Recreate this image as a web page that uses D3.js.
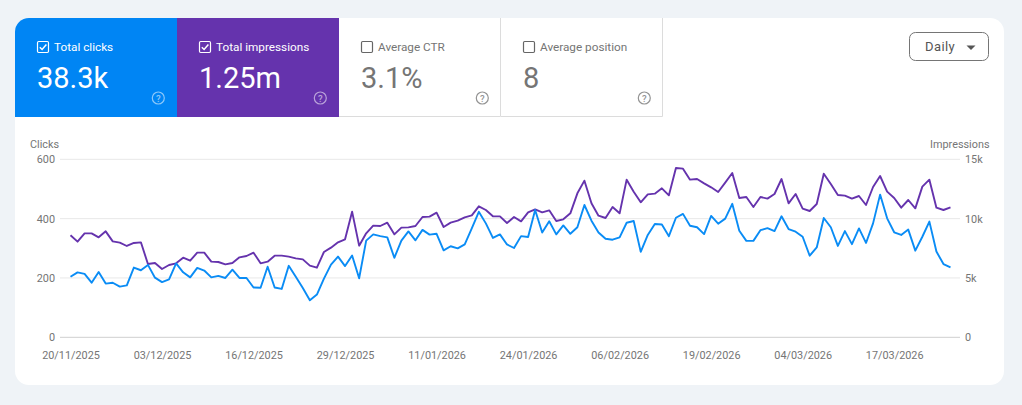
<!DOCTYPE html>
<html><head><meta charset="utf-8">
<script src="https://cdn.jsdelivr.net/npm/d3@7"></script>
<style>
html,body{margin:0;padding:0;background:#eff3f7;overflow:hidden}
svg{display:block;font-family:Roboto,sans-serif}
</style></head><body>
<svg id="c" width="1022" height="405"></svg>
<script>
const startDate = "2025-11-20";
const tickLabels = ["20/11/2025","03/12/2025","16/12/2025","29/12/2025","11/01/2026","24/01/2026","06/02/2026","19/02/2026","04/03/2026","17/03/2026"];
const clicksTicks = [0,200,400,600];
const imprTicks = [0,5000,10000,15000];
const imprTickLabels = ["0","5k","10k","15k"];
const clicks = [204,219,214,184,220,181,184,171,175,235,226,244,201,186,195,249,219,202,234,225,202,207,200,228,200,200,168,167,238,168,163,241,204,166,125,144,198,245,272,240,276,199,
326,347,341,337,268,326,357,327,362,346,349,293,307,300,313,367,423,384,335,347,313,301,341,338,429,353,391,347,377,349,371,446,393,353,332,329,337,386,392,288,345,
382,380,341,403,416,376,371,348,409,383,400,450,359,325,325,361,368,358,408,365,356,339,275,303,402,371,308,358,314,367,318,384,481,401,354,345,363,292,339,390,289,247,236];
const impressions = [8593,8059,8761,8761,8424,8930,8087,7975,7694,7947,8003,6177,6261,5756,6093,6233,6711,6458,7132,7132,6374,6346,6149,6261,6739,6851,7132,6233,6374,6879,6879,6795,6655,6570,6037,5868,7188,7553,8003,8256,10587,7722,
8761,9407,9379,9660,8677,9239,9267,9379,10138,10166,10503,9295,9660,9829,10110,10278,11037,10728,10194,10194,9632,10138,9773,10531,10784,10531,10699,9801,9941,10447,12132,13200,11289,10250,10053,10980,10447,13284,12273,11374,12048,
12104,12553,11964,14267,14211,13284,13340,12975,12638,12245,13031,13846,11739,11823,10980,11823,11683,12076,13340,11289,12076,10840,10643,11233,13789,12919,11992,11936,11683,11907,11149,12666,13593,12273,11739,10924,11570,10868,12694,13284,10924,10728,10952];
const tabNames = ["Total clicks","Total impressions","Average CTR","Average position"];
const tabValues = ["38.3k","1.25m","3.1%","8"];
const tabActive = [true,true,false,false];
const tabFills = ["#0085f4","#6533ad","#ffffff","#ffffff"];

const svg = d3.select("#c");
const clip = svg.append("defs").append("clipPath").attr("id","card");
clip.append("rect").attr("x",15).attr("y",18).attr("width",989).attr("height",367).attr("rx",14);
svg.append("rect").attr("x",15).attr("y",18).attr("width",989).attr("height",367).attr("rx",14).attr("fill","#fff");
const card = svg.append("g").attr("clip-path","url(#card)");

// tabs
const tabX = d3.scaleLinear().domain([0,4]).range([15,663]);
tabNames.forEach((name,i)=>{
  const x0 = tabX(i), on = tabActive[i], fg = on ? "#fff" : "#757575";
  const g = card.append("g");
  g.append("rect").attr("x",x0).attr("y",18).attr("width",162).attr("height",99).attr("fill",tabFills[i]);
  if(!on){
    g.append("path").attr("d",`M${x0+161.5} 18V116.5H${x0}`).attr("fill","none").attr("stroke","#dcdcdc").attr("stroke-width",1);
  }
  g.append("rect").attr("x",x0+22.5).attr("y",41.5).attr("width",11).attr("height",11).attr("rx",1.2)
    .attr("fill","none").attr("stroke",on?"#fff":"#666").attr("stroke-width",1.2);
  if(on) g.append("path").attr("d",`M${x0+24.8} 47.2l2.3 2.3 4.3-4.9`).attr("fill","none").attr("stroke","#fff").attr("stroke-width",1.5);
  g.append("text").attr("x",x0+39).attr("y",51).attr("font-size",11.75).attr("fill",fg).text(name);
  g.append("text").attr("x",x0+22).attr("y",87.5).attr("font-size",29).attr("fill",fg).text(tabValues[i]);
  const q = g.append("g").attr("opacity",on?0.55:0.9);
  q.append("circle").attr("cx",x0+143.3).attr("cy",98).attr("r",6).attr("fill","none").attr("stroke",on?"#fff":"#888").attr("stroke-width",1.2);
  q.append("text").attr("x",x0+143.3).attr("y",101.5).attr("text-anchor","middle").attr("font-size",9.5).attr("font-weight",500).attr("fill",on?"#fff":"#888").text("?");
});

// dropdown
svg.append("rect").attr("x",909.5).attr("y",32.5).attr("width",79).attr("height",28).attr("rx",6).attr("fill","#fff").attr("stroke","#757575");
svg.append("text").attr("x",925).attr("y",51).attr("font-size",13).attr("letter-spacing",0.4).attr("fill","#555").text("Daily");
svg.append("path").attr("d","M966.5 45.5h9l-4.5 4.5z").attr("fill","#555");

// scales
const parse = d3.timeParse("%d/%m/%Y");
const start = d3.timeParse("%Y-%m-%d")(startDate);
const dates = clicks.map((_,i)=>d3.timeDay.offset(start,i));
const x = d3.scaleTime().domain([start,dates[dates.length-1]]).range([70.5,950.5]);
const yL = d3.scaleLinear().domain([0,600]).range([337.3,159.3]);
const yR = d3.scaleLinear().domain([0,15000]).range([337.3,159.3]);

// grid
svg.append("g").selectAll("line").data(clicksTicks).join("line")
  .attr("x1",60).attr("x2",960).attr("y1",d=>yL(d)).attr("y2",d=>yL(d))
  .attr("stroke",d=>d===0?"#cfcfcf":"#e8e8e8").attr("stroke-width",1);

// axes
const axisFont = g=>{g.select(".domain").remove();g.selectAll(".tick line").remove();
  g.selectAll("text").attr("font-family","Roboto,sans-serif").attr("font-size",10.85).attr("fill","#757575");};
svg.append("g").attr("transform","translate(55,0)")
  .call(d3.axisLeft(yL).tickValues(clicksTicks).tickSize(0).tickPadding(0)).call(axisFont);
svg.append("g").attr("transform","translate(965,0)")
  .call(d3.axisRight(yR).tickValues(imprTicks).tickFormat((d,i)=>imprTickLabels[i]).tickSize(0).tickPadding(0)).call(axisFont);
svg.append("g").attr("transform","translate(0,351)")
  .call(d3.axisBottom(x).tickValues(tickLabels.map(parse)).tickFormat(d3.timeFormat("%d/%m/%Y")).tickSize(0).tickPadding(0)).call(axisFont);
svg.append("text").attr("x",30).attr("y",148).attr("font-size",10.85).attr("fill","#757575").text("Clicks");
svg.append("text").attr("x",989.5).attr("y",148).attr("text-anchor","end").attr("font-size",10.85).attr("fill","#757575").text("Impressions");

// lines
svg.append("path").datum(impressions).attr("fill","none").attr("stroke","#6533ad").attr("stroke-width",1.9).attr("stroke-linejoin","round")
  .attr("d",d3.line().x((d,i)=>x(dates[i])).y(d=>yR(d)));
svg.append("path").datum(clicks).attr("fill","none").attr("stroke","#0a8cf5").attr("stroke-width",1.9).attr("stroke-linejoin","round")
  .attr("d",d3.line().x((d,i)=>x(dates[i])).y(d=>yL(d)));
</script>
</body></html>
